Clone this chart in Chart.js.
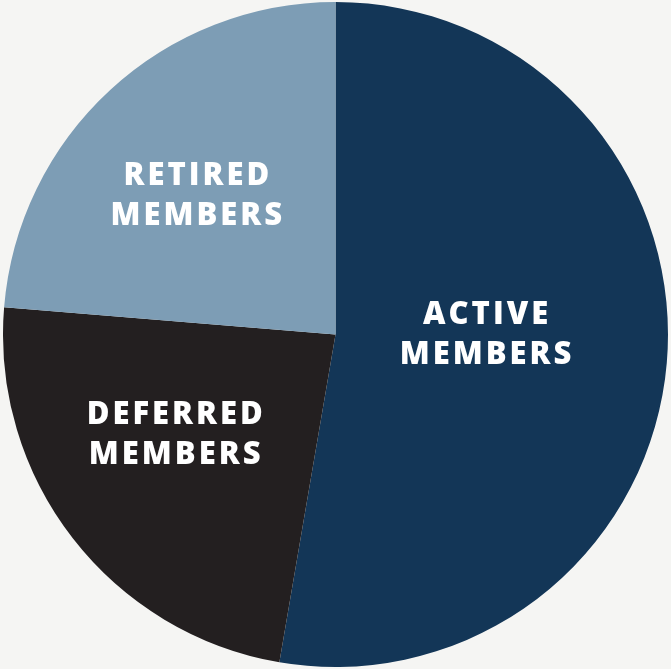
<!DOCTYPE html>
<html>
<head>
<meta charset="utf-8">
<script src="https://cdn.jsdelivr.net/npm/chart.js@4"></script>
<style>
  html, body { margin:0; padding:0; background:#f5f5f3; }
  #wrap { width:671px; height:669px; }
</style>
</head>
<body>
<div id="wrap"><canvas id="pie"></canvas></div>
<script>
// ── Membership pie ──
const labels = [['ACTIVE', 'MEMBERS'], ['DEFERRED', 'MEMBERS'], ['RETIRED', 'MEMBERS']];
const shares = [52.7, 23.6, 23.7];
const colors = ['#133657', '#231f20', '#7d9db5'];

// where each label sits, as a fraction of the radius from the centre (x, y)
const labelAnchors = [[0.45, 0], [-0.485, 0.30], [-0.42, -0.42]];

const sliceLabels = {
  id: 'sliceLabels',
  afterDatasetsDraw(chart) {
    const ctx = chart.ctx;
    const arcs = chart.getDatasetMeta(0).data;
    ctx.save();
    ctx.fillStyle = '#ffffff';
    ctx.font = '800 31px "Open Sans", sans-serif';
    ctx.letterSpacing = '3px';
    ctx.textAlign = 'center';
    ctx.textBaseline = 'middle';
    arcs.forEach((arc, i) => {
      const r = arc.outerRadius;
      const x = arc.x + labelAnchors[i][0] * r;
      const y = arc.y + labelAnchors[i][1] * r;
      const lines = labels[i];
      lines.forEach((t, j) => {
        ctx.fillText(t, x + 2, y + 1 + (j - (lines.length - 1) / 2) * 40);
      });
    });
    ctx.restore();
  }
};

new Chart(document.getElementById('pie'), {
  type: 'pie',
  data: {
    labels: labels.map(l => l.join(' ')),
    datasets: [{ data: shares, backgroundColor: colors, borderWidth: 0 }]
  },
  options: {
    responsive: true,
    maintainAspectRatio: false,
    animation: false,
    layout: { padding: 2 },
    plugins: { legend: { display: false }, tooltip: { enabled: false } }
  },
  plugins: [sliceLabels]
});
</script>
</body>
</html>
